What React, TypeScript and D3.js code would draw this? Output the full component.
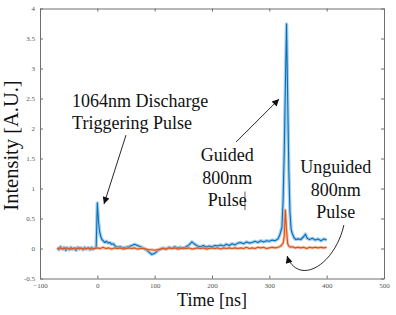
import { useEffect, useRef } from 'react'
import * as d3 from 'd3'

const X_TICKS = [-100, 0, 100, 200, 300, 400, 500]
const Y_TICKS = [-0.5, 0, 0.5, 1, 1.5, 2, 2.5, 3, 3.5, 4]

// guided (blue) trace: [time ns, intensity]
const GUIDED: [number, number][] = [
  [-70, 0.01], [-67, -0.02], [-64, 0.03], [-61, -0.01], [-58, 0.02], [-55, -0.03], [-52, 0.01],
  [-49, -0.02], [-46, 0.02], [-43, -0.01], [-40, 0.0], [-37, -0.03], [-34, 0.02], [-31, -0.01],
  [-28, 0.01], [-25, -0.02], [-22, 0.02], [-19, -0.01], [-16, 0.01], [-13, -0.02], [-10, 0.02],
  [-7, -0.01], [-4, 0.01], [-2, 0.02], [0, 0.76], [2, 0.45], [4, 0.28], [6, 0.2], [8, 0.15],
  [10, 0.13], [13, 0.1], [16, 0.12], [19, 0.09], [22, 0.1], [25, 0.07], [28, 0.08], [31, 0.04],
  [35, 0.02], [40, 0.03], [45, 0.01], [50, 0.02], [55, 0.03], [60, 0.05], [65, 0.07], [70, 0.05],
  [75, 0.03], [80, 0.01], [85, -0.02], [90, -0.06], [95, -0.1], [100, -0.08], [105, -0.04],
  [110, -0.01], [115, 0.01], [120, -0.01], [125, 0.02], [130, 0.0], [135, 0.03], [140, 0.01],
  [145, 0.02], [150, 0.0], [155, 0.03], [160, 0.06], [165, 0.11], [170, 0.07], [175, 0.04],
  [180, 0.03], [185, 0.05], [190, 0.02], [195, 0.04], [200, 0.03], [205, 0.05], [210, 0.04],
  [215, 0.06], [220, 0.04], [225, 0.07], [230, 0.05], [235, 0.08], [240, 0.06], [245, 0.09],
  [250, 0.1], [255, 0.08], [260, 0.11], [265, 0.09], [270, 0.1], [275, 0.12], [280, 0.1],
  [285, 0.13], [290, 0.11], [295, 0.13], [300, 0.12], [305, 0.14], [310, 0.13], [315, 0.16],
  [318, 0.22], [322, 0.35], [324, 0.8], [326, 1.6], [328, 2.7], [330, 3.74], [332, 2.5],
  [334, 1.3], [336, 0.6], [338, 0.32], [340, 0.25], [343, 0.18], [346, 0.15], [350, 0.16],
  [355, 0.15], [360, 0.2], [363, 0.24], [366, 0.17], [370, 0.15], [375, 0.17], [380, 0.14],
  [385, 0.16], [390, 0.13], [395, 0.16], [400, 0.14],
]

// unguided (orange) trace
const UNGUIDED: [number, number][] = [
  [-70, 0.0], [-65, 0.01], [-60, -0.01], [-55, 0.01], [-50, 0.0], [-45, -0.01], [-40, 0.01],
  [-35, 0.0], [-30, 0.01], [-25, -0.01], [-20, 0.0], [-15, 0.01], [-10, -0.01], [-5, 0.0],
  [0, 0.01], [5, 0.0], [10, 0.02], [15, 0.0], [20, 0.01], [25, -0.01], [30, 0.01], [35, 0.0],
  [40, 0.01], [45, -0.01], [50, 0.0], [55, 0.01], [60, 0.0], [65, 0.01], [70, -0.01], [75, 0.0],
  [80, 0.0], [85, -0.01], [90, -0.02], [95, -0.02], [100, -0.03], [105, -0.02], [110, -0.01],
  [115, 0.0], [120, -0.01], [125, 0.01], [130, 0.0], [135, 0.01], [140, -0.01], [145, 0.0],
  [150, 0.01], [155, 0.0], [160, 0.01], [165, -0.01], [170, 0.0], [175, 0.01], [180, 0.0],
  [185, 0.01], [190, -0.01], [195, 0.0], [200, 0.01], [205, 0.0], [210, 0.01], [215, -0.01],
  [220, 0.01], [225, 0.0], [230, 0.01], [235, 0.0], [240, 0.01], [245, 0.0], [250, 0.01],
  [255, 0.0], [260, 0.02], [265, 0.0], [270, 0.01], [275, 0.0], [280, 0.02], [285, 0.01],
  [290, 0.02], [295, 0.0], [300, 0.01], [305, 0.02], [310, 0.01], [315, 0.02], [318, 0.03],
  [321, 0.05], [324, 0.09], [326, 0.2], [328, 0.64], [330, 0.3], [332, 0.08], [334, 0.04],
  [337, 0.02], [340, 0.03], [345, 0.01], [350, 0.02], [355, 0.01], [360, 0.02], [365, 0.0],
  [370, 0.02], [375, 0.01], [380, 0.02], [385, 0.01], [390, 0.02], [395, 0.01], [400, 0.02],
]

// annotation text, anchored in data coordinates
const LABELS = [
  { t: -44, v: 2.36, text: '1064nm Discharge', anchor: 'start' },
  { t: -44, v: 1.99, text: 'Triggering Pulse', anchor: 'start' },
  { t: 226.5, v: 1.46, text: 'Guided', anchor: 'middle' },
  { t: 226.5, v: 1.08, text: '800nm', anchor: 'middle' },
  { t: 226.5, v: 0.71, text: 'Pulse', anchor: 'middle' },
  { t: 416, v: 1.26, text: 'Unguided', anchor: 'middle' },
  { t: 416, v: 0.88, text: '800nm', anchor: 'middle' },
  { t: 416, v: 0.51, text: 'Pulse', anchor: 'middle' },
]

const BLUE = '#0072BD'
const ORANGE = '#D95319'
const SERIF = '"Liberation Serif", "Times New Roman", serif'

export default function App() {
  const svgRef = useRef<SVGSVGElement>(null)
  const WIDTH = 396
  const HEIGHT = 315
  const M = { top: 8.5, right: 12, bottom: 36.5, left: 40 }
  const IW = WIDTH - M.left - M.right
  const IH = HEIGHT - M.top - M.bottom

  useEffect(() => {
    if (!svgRef.current) return
    const svg = d3.select(svgRef.current)
    svg.selectAll('*').remove()

    const x = d3.scaleLinear().domain([-100, 500]).range([0, IW])
    const y = d3.scaleLinear().domain([-0.5, 4]).range([IH, 0])

    const defs = svg.append('defs')
    defs.append('marker').attr('id', 'head')
      .attr('viewBox', '0 0 10 10').attr('refX', 10).attr('refY', 5)
      .attr('markerWidth', 9).attr('markerHeight', 7).attr('markerUnits', 'userSpaceOnUse')
      .attr('orient', 'auto')
      .append('path').attr('d', 'M0,0 L10,5 L0,10 Z').attr('fill', '#111')
    defs.append('clipPath').attr('id', 'plotclip')
      .append('rect').attr('width', IW).attr('height', IH)

    const g = svg.append('g').attr('transform', `translate(${M.left},${M.top})`)

    const styleAxis = (ag: d3.Selection<SVGGElement, unknown, null, undefined>) => {
      ag.select('.domain').attr('stroke', '#6e6e6e').attr('stroke-width', 1)
      ag.selectAll('.tick line').attr('stroke', '#6e6e6e')
      ag.selectAll('text').attr('fill', '#555').attr('font-size', 7).attr('font-family', SERIF)
    }

    g.append('g').attr('transform', `translate(0,${IH})`)
      .call(d3.axisBottom(x).tickValues(X_TICKS).tickSize(-3).tickSizeOuter(0).tickPadding(5))
      .call(styleAxis)
    g.append('g')
      .call(d3.axisTop(x).tickValues(X_TICKS).tickSize(-3).tickSizeOuter(0).tickFormat(() => ''))
      .call(styleAxis)
    g.append('g')
      .call(d3.axisLeft(y).tickValues(Y_TICKS).tickSize(-3).tickSizeOuter(0).tickPadding(5)
        .tickFormat(d => String(d)))
      .call(styleAxis)
    g.append('g').attr('transform', `translate(${IW},0)`)
      .call(d3.axisRight(y).tickValues(Y_TICKS).tickSize(-3).tickSizeOuter(0).tickFormat(() => ''))
      .call(styleAxis)

    const line = d3.line<[number, number]>().x(d => x(d[0])).y(d => y(d[1]))
    const plot = g.append('g').attr('clip-path', 'url(#plotclip)')

    // faint halo gives the noisy look of the measured traces
    plot.append('path').datum(GUIDED).attr('d', line).attr('fill', 'none')
      .attr('stroke', '#8fbde3').attr('stroke-width', 3.5).attr('stroke-linejoin', 'round')
      .attr('opacity', 0.75)
    plot.append('path').datum(GUIDED).attr('d', line).attr('fill', 'none')
      .attr('stroke', BLUE).attr('stroke-width', 1.1).attr('stroke-linejoin', 'round')
    plot.append('path').datum(UNGUIDED).attr('d', line).attr('fill', 'none')
      .attr('stroke', '#f0a383').attr('stroke-width', 3).attr('stroke-linejoin', 'round')
      .attr('opacity', 0.7)
    plot.append('path').datum(UNGUIDED).attr('d', line).attr('fill', 'none')
      .attr('stroke', ORANGE).attr('stroke-width', 1.1).attr('stroke-linejoin', 'round')

    // annotations
    LABELS.forEach(l => {
      g.append('text').attr('x', x(l.t)).attr('y', y(l.v))
        .attr('text-anchor', l.anchor).attr('font-family', SERIF).attr('font-size', 18)
        .attr('fill', '#111').text(l.text)
    })
    // stray cursor bar after "Pulse"
    g.append('line').attr('x1', x(257.5)).attr('x2', x(257.5)).attr('y1', y(0.95)).attr('y2', y(0.64))
      .attr('stroke', '#333').attr('stroke-width', 0.8)

    const arrow = (d: string) =>
      g.append('path').attr('d', d).attr('fill', 'none').attr('stroke', '#111')
        .attr('stroke-width', 0.9).attr('marker-end', 'url(#head)')

    arrow(`M${x(50)},${y(1.89)} L${x(11.6)},${y(0.74)}`)
    arrow(`M${x(242)},${y(1.775)} L${x(317)},${y(2.49)}`)
    const p = d3.path()
    p.moveTo(x(430), y(0.39))
    p.bezierCurveTo(x(420), y(-0.05), x(385), y(-0.42), x(355), y(-0.36))
    p.bezierCurveTo(x(342), y(-0.33), x(334), y(-0.22), x(331), y(-0.125))
    arrow(p.toString())

    // axis titles
    g.append('text').attr('x', IW / 2).attr('y', IH + 27)
      .attr('text-anchor', 'middle').attr('font-family', SERIF).attr('font-size', 18)
      .attr('fill', '#111').text('Time [ns]')
    g.append('text').attr('transform', 'rotate(-90)').attr('x', -(IH / 2 + 2)).attr('y', -22)
      .attr('text-anchor', 'middle').attr('font-family', SERIF).attr('font-size', 20.5)
      .attr('fill', '#111').text('Intensity [A.U.]')
  }, [IW, IH])

  return (
    <svg
      ref={svgRef}
      width={WIDTH}
      height={HEIGHT}
      style={{ position: 'absolute', left: 0, top: 0, background: '#fff' }}
    />
  )
}
